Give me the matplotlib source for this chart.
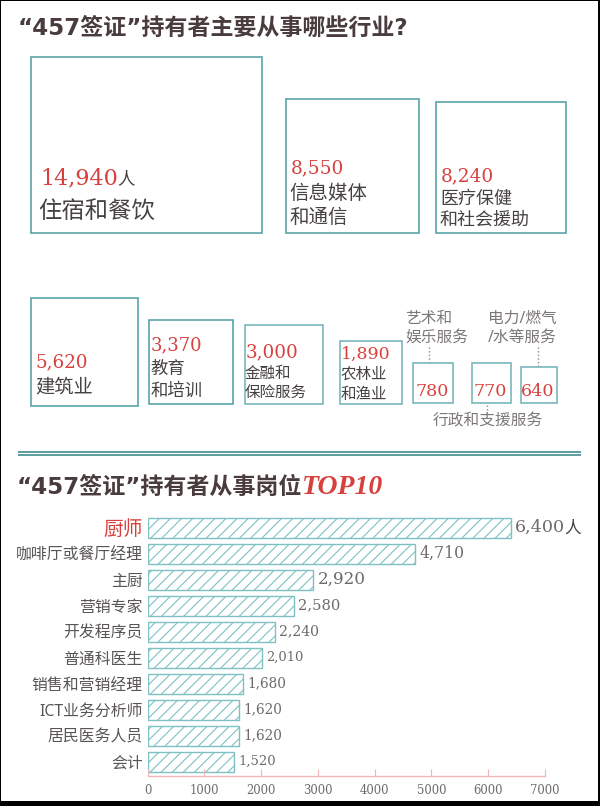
import matplotlib
matplotlib.use("Agg")
import matplotlib.pyplot as plt
from matplotlib.patches import Rectangle
import numpy as np

# ---------------- data ----------------
industry_top = ["住宿和餐饮", "信息媒体\n和通信", "医疗保健\n和社会援助"]
industry_top_values = [14940, 8550, 8240]
industry_bottom = ["建筑业", "教育\n和培训", "金融和\n保险服务", "农林业\n和渔业",
                   "艺术和\n娱乐服务", "行政和支援服务", "电力/燃气\n/水等服务"]
industry_bottom_values = [5620, 3370, 3000, 1890, 780, 770, 640]

jobs = ["厨师", "咖啡厅或餐厅经理", "主厨", "营销专家", "开发程序员", "普通科医生",
        "销售和营销经理", "ICT业务分析师", "居民医务人员", "会计"]
job_counts = [6400, 4710, 2920, 2580, 2240, 2010, 1680, 1620, 1620, 1520]
x_ticks = [0, 1000, 2000, 3000, 4000, 5000, 6000, 7000]

title1 = "“457签证”持有者主要从事哪些行业?"
title2 = "“457签证”持有者从事岗位"
title2_tail = "TOP10"
unit = "人"

# ---------------- style ----------------
RED = "#d8403d"
TEAL = "#4a9ca1"
TEAL_L = "#7fc0c2"
DARK = "#4a3c3c"
TXT = "#474242"
GRAY = "#6e6a6a"
LGRAY = "#7d7878"
CJK = ["Noto Sans", "Noto Sans CJK SC"]
NUM = "DejaVu Serif"
plt.rcParams["font.family"] = CJK
plt.rcParams["hatch.linewidth"] = 0.8

fig = plt.figure(figsize=(6, 8.06), dpi=100)
fig.patch.set_facecolor("white")

# overlay axes in pixel coordinates
ax0 = fig.add_axes([0, 0, 1, 1])
ax0.set_xlim(0, 600)
ax0.set_ylim(806, 0)
ax0.axis("off")

# border
for (x, y, w, h) in [(0, 0, 1.2, 806), (0, 0, 600, 1.2), (598, 0, 2, 806), (0, 801, 600, 5)]:
    ax0.add_patch(Rectangle((x, y), w, h, color="black", lw=0, clip_on=False))

# titles
TFONT = ["DejaVu Sans", "Noto Sans CJK SC"]
ax0.text(18, 28, title1, fontsize=16.6, fontweight="bold", color=DARK, va="center", ha="left",
         family=TFONT)
t2 = ax0.text(17, 487, title2, fontsize=16.6, fontweight="bold", color=DARK, va="center", ha="left",
              family=TFONT)
ax0.annotate(title2_tail, xy=(1, 0.5), xycoords=t2, xytext=(0, 0), textcoords="offset points",
             fontsize=20, fontweight="bold", fontstyle="italic", family="Liberation Serif",
             color=RED, va="center", ha="left")

# ---------------- area boxes ----------------
K = 1.4384  # side pixels per sqrt(person)
top_left = [30.6, 285.5, 435.5]
top_base = [233, 232.5, 232.5]
top_aspect = [1.315, 1, 1]
for v, l, b, a in zip(industry_top_values, top_left, top_base, top_aspect):
    h = K * np.sqrt(v)
    ax0.add_patch(Rectangle((l, b - h), h * a, h, fill=False, ec=TEAL, lw=1.1))

# value + labels for top boxes
top_val_pos = [(40, 178, 16), (291, 168, 13.3), (441, 176, 13.3)]
top_lab_pos = [[(38, 212)], [(289.5, 194), (289.5, 217.5)], [(440, 198.5), (440, 220)]]
top_lab_size = [16.8, 14, 13]
for i, v in enumerate(industry_top_values):
    x, y, s = top_val_pos[i]
    tv = ax0.text(x, y, f"{v:,}", family=NUM, fontsize=s, color=RED, va="center", ha="left")
    if i == 0:
        ax0.annotate(unit, xy=(1, 0.45), xycoords=tv, xytext=(-0.5, 0), textcoords="offset points",
                     fontsize=12.5, color=TXT, va="center", ha="left")
    for line, (lx, ly) in zip(industry_top[i].split("\n"), top_lab_pos[i]):
        ax0.text(lx, ly, line, fontsize=top_lab_size[i], color=TXT, va="center", ha="left")

bot_left = [30.6, 149.3, 244.5, 339.5, 413.3, 471.5, 520.5]
bot_base = [406, 403.6, 403.6, 403.6, 403.3, 403.3, 403.3]
bot_ec = [TEAL, TEAL, "#6fb2b6", "#6fb2b6", "#6fb2b6", "#6fb2b6", "#6fb2b6"]
for v, l, b, c in zip(industry_bottom_values, bot_left, bot_base, bot_ec):
    h = K * np.sqrt(v)
    ax0.add_patch(Rectangle((l, b - h), h, h, fill=False, ec=c, lw=1.1))

# numbers inside bottom boxes
bot_val_pos = [(35.6, 362.5, 13.2), (150.4, 345.5, 13), (245.3, 352.5, 13.2), (340.6, 354, 12.5)]
for i in range(4):
    x, y, s = bot_val_pos[i]
    ax0.text(x, y, f"{industry_bottom_values[i]:,}", family=NUM, fontsize=s, color=RED,
             va="center", ha="left")
for i in range(4, 7):
    v = industry_bottom_values[i]
    cx = bot_left[i] + K * np.sqrt(v) / 2
    ax0.text(cx - 1, 391, f"{v:,}", family=NUM, fontsize=12.6, color=RED, va="center", ha="center")

# labels inside bottom boxes
bot_lab_pos = [[(35.2, 388)], [(150.4, 369), (150.4, 391)], [(245, 373.5), (245, 393)],
               [(340.6, 375), (340.6, 394.5)]]
bot_lab_size = [13.9, 12.5, 11.2, 11.2]
for i in range(4):
    for line, (lx, ly) in zip(industry_bottom[i].split("\n"), bot_lab_pos[i]):
        ax0.text(lx, ly, line, fontsize=bot_lab_size[i], color=TXT, va="center", ha="left")

# outer labels with dotted leaders
out_lab_pos = {4: [(405, 319), (405, 338)], 5: [(432.3, 421.5)], 6: [(488.3, 319), (487.7, 338)]}
for i, poss in out_lab_pos.items():
    for line, (lx, ly) in zip(industry_bottom[i].split("\n"), poss):
        ax0.text(lx, ly, line, fontsize=11.3, color=LGRAY, va="center", ha="left")
for (x, y1, y2) in [(429.3, 346.7, 362), (538.3, 346.7, 366), (487.3, 404.5, 413.3)]:
    ax0.plot([x, x], [y1, y2], color="#8a8a8a", lw=1, ls=(0, (1, 1.6)))

# double separator lines
for y in [451.7, 455.4]:
    ax0.plot([18.4, 580.6], [y, y], color="#3f8c8f", lw=1.2, solid_capstyle="butt")

# ---------------- bar chart ----------------
W, H = 600, 806
x0, x1 = 147.5, 545
y_top, y_bot = 514.7, 776
ax = fig.add_axes([x0 / W, 1 - y_bot / H, (x1 - x0) / W, (y_bot - y_top) / H])
ax.set_facecolor("none")
pos = np.arange(len(jobs))
ax.barh(pos, job_counts, height=0.77, color="white", edgecolor=TEAL_L, hatch="///", lw=1.0)
ax.set_xlim(0, 7000)
ax.set_ylim(len(jobs) - 0.45, -0.5)
ax.set_xticks(x_ticks)
ax.set_xticklabels([str(t) for t in x_ticks], family=NUM, fontsize=8.4, color=GRAY)
ax.tick_params(axis="x", direction="in", length=5, width=0.8, color="#f0b4bb", pad=6)
ax.set_yticks(pos)
ax.set_yticklabels(jobs)
ax.tick_params(axis="y", length=0, pad=3.5)
for k, lab in enumerate(ax.get_yticklabels()):
    if k == 0:
        lab.set_color(RED)
        lab.set_fontsize(14.2)
    else:
        lab.set_color("#5a5555")
        lab.set_fontsize(11.4)
for s in ["top", "right", "left"]:
    ax.spines[s].set_visible(False)
ax.spines["bottom"].set_color("#f0b4bb")
ax.spines["bottom"].set_linewidth(1)

val_sizes = [12.6, 11.3, 12.1, 10.6, 10.1, 9.4, 9.8, 9.8, 9.8, 9.5]
for k, (v, s) in enumerate(zip(job_counts, val_sizes)):
    t = ax.annotate(f"{v:,}", xy=(v, k), xytext=(3, 0), textcoords="offset points",
                    family=NUM, fontsize=s, color=GRAY, va="center", ha="left")
    if k == 0:
        ax.annotate(unit, xy=(1, 0.45), xycoords=t, xytext=(-0.5, 0), textcoords="offset points",
                    fontsize=12, color=TXT, va="center", ha="left")

fig.savefig("out.png", dpi=100, facecolor="white")
